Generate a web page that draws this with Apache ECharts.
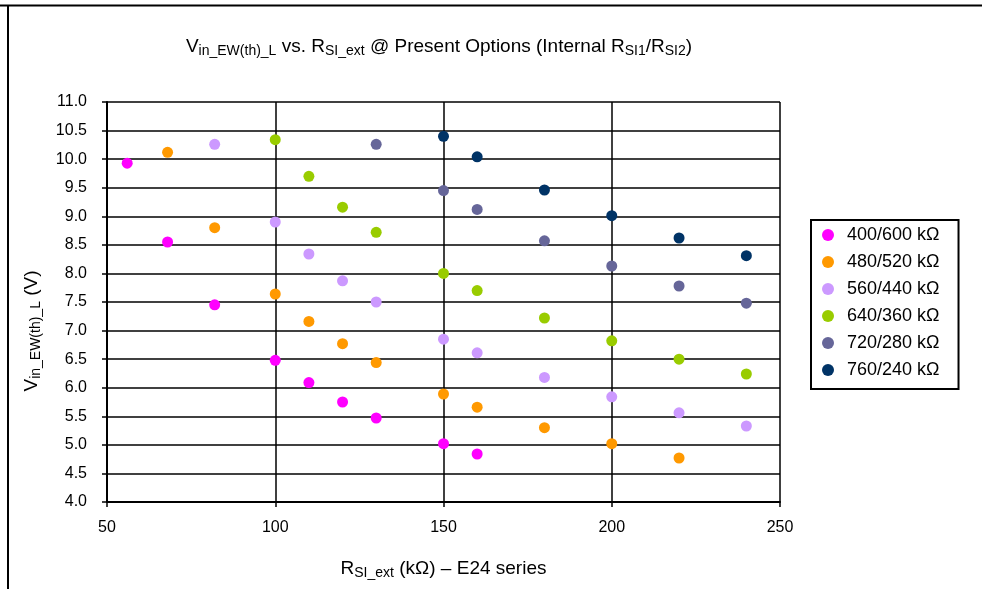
<!DOCTYPE html>
<html>
<head>
<meta charset="utf-8">
<script src="https://cdn.jsdelivr.net/npm/echarts@6/dist/echarts.min.js"></script>
<style>
  html, body { margin: 0; padding: 0; background: #fff; }
  #chart { width: 982px; height: 589px; }
</style>
</head>
<body>
<div id="chart"></div>
<script>
// E24 resistor values on x
var rExt = [56, 68, 82, 100, 110, 120, 130, 150, 160, 180, 200, 220, 240];

// Vin_EW(th)_L per internal divider option (null = not shown)
var s400 = [9.93, 8.55, 7.45, 6.48, 6.09, 5.75, 5.47, 5.02, 4.84, null, null, null, null];
var s480 = [null, 10.12, 8.80, 7.64, 7.16, 6.77, 6.44, 5.89, 5.66, 5.30, 5.02, 4.77, null];
var s560 = [null, null, 10.26, 8.90, 8.34, 7.87, 7.50, 6.85, 6.61, 6.18, 5.84, 5.56, 5.33];
var s640 = [null, null, null, 10.34, 9.70, 9.16, 8.72, 8.00, 7.70, 7.22, 6.82, 6.50, 6.24];
var s720 = [null, null, null, null, null, null, 10.26, 9.45, 9.12, 8.57, 8.13, 7.78, 7.48];
var s760 = [null, null, null, null, null, null, null, 10.40, 10.04, 9.46, 9.01, 8.62, 8.31];

var names = ['400/600 kΩ', '480/520 kΩ', '560/440 kΩ', '640/360 kΩ', '720/280 kΩ', '760/240 kΩ'];
var values = [s400, s480, s560, s640, s720, s760];
var colors = ['#FF00FF', '#FF9900', '#CC99FF', '#99CC00', '#666699', '#003366'];

var font = '"Liberation Sans", Arial, sans-serif';

// 把x和y配成点
var toPoints = function (vals) {
    var res = [];
    for (var i = 0; i < rExt.length; i++) {
        if (vals[i] != null) res.push([rExt[i], vals[i]]);
    }
    return res;
};

var series = [];
for (var k = 0; k < names.length; k++) {
    series.push({
        name: names[k],
        type: 'scatter',
        symbol: 'circle',
        symbolSize: 11,
        itemStyle: { color: colors[k], opacity: 1 },
        data: toPoints(values[k])
    });
}

// 上下标样式
var makeRich = function (big, small) {
    return {
        m: { fontSize: big, fontFamily: font, fontWeight: 'normal', fill: '#000', color: '#000', lineHeight: big + 4, verticalAlign: 'middle' },
        s: { fontSize: small, fontFamily: font, fontWeight: 'normal', fill: '#000', color: '#000', lineHeight: small - 3, verticalAlign: 'bottom' }
    };
};

var myChart = echarts.init(document.getElementById('chart'));
myChart.setOption({
    backgroundColor: '#fff',
    animation: false,
    legend: {
        orient: 'vertical',
        left: 811,
        top: 220,
        padding: [6, 19, 10, 11],
        borderColor: '#000',
        borderWidth: 2,
        itemWidth: 12,
        itemHeight: 12,
        itemGap: 9,
        icon: 'circle',
        textStyle: { fontSize: 18, fontFamily: font, color: '#000', lineHeight: 18, padding: [0, 0, 0, 8] },
        data: names
    },
    grid: { left: 107, right: 202, top: 102, bottom: 87 },
    xAxis: {
        type: 'value',
        min: 50,
        max: 250,
        interval: 50,
        name: '{m|R}{s|SI_ext}{m| (kΩ) – E24 series}',
        nameLocation: 'middle',
        nameGap: 55,
        nameTextStyle: { rich: makeRich(19, 14) },
        axisLine: { show: true, lineStyle: { color: '#000', width: 2 } },
        axisTick: { show: true, length: 5, lineStyle: { color: '#000', width: 1.5 } },
        axisLabel: { fontSize: 16, fontFamily: font, color: '#000', margin: 18 },
        splitLine: { show: true, lineStyle: { color: '#000', width: 1.5 } }
    },
    yAxis: {
        type: 'value',
        min: 4,
        max: 11,
        interval: 0.5,
        axisLine: { show: true, lineStyle: { color: '#000', width: 2 } },
        axisTick: { show: true, length: 5, lineStyle: { color: '#000', width: 1.5 } },
        axisLabel: {
            fontSize: 16, fontFamily: font, color: '#000', margin: 20,
            formatter: function (v) { return v.toFixed(1); }
        },
        splitLine: { show: true, lineStyle: { color: '#000', width: 1.5 } }
    },
    graphic: [
        { type: 'line', shape: { x1: 0, y1: 5.5, x2: 982, y2: 5.5 }, style: { stroke: '#000', lineWidth: 2 } },
        { type: 'line', shape: { x1: 8, y1: 5, x2: 8, y2: 589 }, style: { stroke: '#000', lineWidth: 2 } },
        {
            type: 'text', x: 439, y: 47,
            style: {
                text: '{m|V}{s|in_EW(th)_L}{m| vs. R}{s|SI_ext}{m| @ Present Options (Internal R}{s|SI1}{m|/R}{s|SI2}{m|)}',
                x: 0, y: 0, align: 'center', verticalAlign: 'middle',
                rich: makeRich(19, 14)
            }
        },
        {
            type: 'text', x: 32, y: 331, rotation: Math.PI / 2,
            style: {
                text: '{m|V}{s|in_EW(th)_L}{m| (V)}',
                x: 0, y: 0, align: 'center', verticalAlign: 'middle',
                rich: makeRich(19, 14)
            }
        }
    ],
    series: series
});
</script>
</body>
</html>
